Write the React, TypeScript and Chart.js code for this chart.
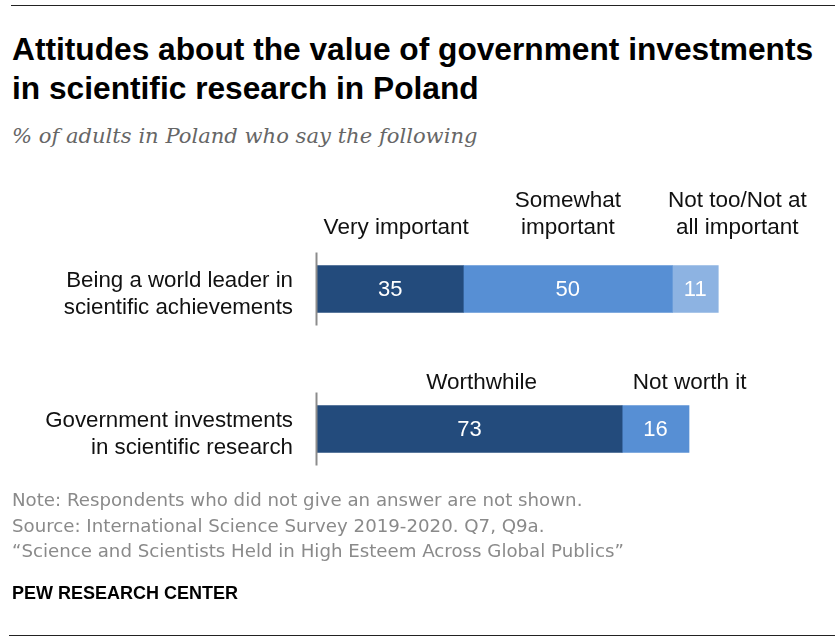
import { useEffect, useRef } from 'react'
import { Chart, registerables } from 'chart.js'
import type { Plugin } from 'chart.js'

Chart.register(...registerables)

const categories = [
  ['Being a world leader in', 'scientific achievements'],
  ['Government investments', 'in scientific research'],
]

// each row holds its own answer set, stacked left to right
const firstSegment = [35, 73]
const secondSegment = [50, 16]
const thirdSegment = [11, null]

const segmentNames = [
  [['Very important'], ['Somewhat', 'important'], ['Not too/Not at', 'all important']],
  [['Worthwhile'], ['Not worth it']],
]

const COLORS = {
  dark: '#234b7c',
  mid: '#578fd4',
  light: '#8db3e2',
  axis: '#8c8c8c',
  text: '#111111',
  note: '#8a8a8a',
}

const SANS = '"Liberation Sans", Arial, sans-serif'

// nudges for the answer names above the bars (px)
const nameShift = [
  [6, 0, 42],
  [12, 34],
]
const nameGap = [32, 17]

const annotatePlugin: Plugin<'bar'> = {
  id: 'annotate',
  afterDatasetsDraw(chart) {
    const ctx = chart.ctx
    const xScale = chart.scales.x
    ctx.save()

    categories.forEach((_, row) => {
      let top = 0
      let bottom = 0
      let seen = 0
      chart.data.datasets.forEach((ds, di) => {
        const value = ds.data[row] as number | null
        if (value == null) return
        const bar = chart.getDatasetMeta(di).data[row] as any
        const { x, y, base, height } = bar.getProps(['x', 'y', 'base', 'height'], true)
        top = y - height / 2
        bottom = y + height / 2
        const cx = (x + base) / 2

        // value inside the bar
        ctx.fillStyle = '#ffffff'
        ctx.font = `22px ${SANS}`
        ctx.textAlign = 'center'
        ctx.textBaseline = 'middle'
        ctx.fillText(String(value), cx, y + 1)

        // answer name above the bar
        const lines = segmentNames[row][seen]
        const nx = cx + (nameShift[row][seen] ?? 0)
        ctx.fillStyle = COLORS.text
        ctx.font = `22.5px ${SANS}`
        ctx.textBaseline = 'alphabetic'
        lines.forEach((line, li) => {
          const baseline = top - nameGap[row] - (lines.length - 1 - li) * 27
          ctx.fillText(line, nx, baseline)
        })
        seen += 1
      })

      // short axis stub for each row
      const x0 = Math.round(xScale.getPixelForValue(0)) - 0.5
      ctx.strokeStyle = COLORS.axis
      ctx.lineWidth = 2
      ctx.beginPath()
      ctx.moveTo(x0, top - 13)
      ctx.lineTo(x0, bottom + 13)
      ctx.stroke()
    })

    ctx.restore()
  },
}

function PollChart() {
  const canvasRef = useRef<HTMLCanvasElement>(null)
  const chartRef = useRef<Chart | null>(null)

  useEffect(() => {
    if (!canvasRef.current) return
    const ctx = canvasRef.current.getContext('2d')
    if (!ctx) return

    chartRef.current = new Chart(ctx, {
      type: 'bar',
      data: {
        labels: categories,
        datasets: [
          { label: 'first', data: firstSegment, backgroundColor: COLORS.dark },
          { label: 'second', data: secondSegment, backgroundColor: COLORS.mid },
          { label: 'third', data: thirdSegment, backgroundColor: COLORS.light },
        ],
      },
      options: {
        indexAxis: 'y',
        responsive: false,
        animation: false,
        layout: {
          padding: { top: 219, bottom: 145, left: 0, right: 105 },
        },
        datasets: {
          bar: { barThickness: 47, borderWidth: 0 },
        },
        plugins: {
          legend: { display: false },
          tooltip: { enabled: false },
        },
        scales: {
          x: {
            stacked: true,
            min: 0,
            max: 100,
            display: false,
          },
          y: {
            stacked: true,
            grid: { display: false, drawTicks: false },
            border: { display: false },
            ticks: {
              padding: 24,
              labelOffset: 5,
              color: COLORS.text,
              font: { family: SANS, size: 22.3, lineHeight: 1.2 },
            },
            afterFit(scale) {
              scale.width = 317
            },
          },
        },
      },
      plugins: [annotatePlugin],
    })

    return () => {
      if (chartRef.current) {
        chartRef.current.destroy()
        chartRef.current = null
      }
    }
  }, [])

  return <canvas ref={canvasRef} width={840} height={644} style={{ position: 'absolute', left: 0, top: 0 }} />
}

export default function App() {
  return (
    <div
      style={{
        position: 'fixed',
        left: 0,
        top: 0,
        width: 840,
        height: 644,
        background: '#ffffff',
        fontFamily: SANS,
        overflow: 'hidden',
      }}
    >
      <div style={{ position: 'absolute', left: 11, top: 5, width: 824, height: 1.3, background: '#222' }} />
      <div
        style={{
          position: 'absolute',
          left: 12,
          top: 30,
          fontSize: 31.7,
          lineHeight: '39px',
          fontWeight: 700,
          color: '#000',
          letterSpacing: 0,
        }}
      >
        Attitudes about the value of government investments
        <br />
        in scientific research in Poland
      </div>
      <div
        style={{
          position: 'absolute',
          left: 12,
          top: 123,
          fontSize: 21.1,
          fontStyle: 'italic',
          fontFamily: '"DejaVu Serif", serif',
          color: '#666',
        }}
      >
        % of adults in Poland who say the following
      </div>
      <PollChart />
      <div
        style={{
          position: 'absolute',
          left: 12,
          top: 487,
          fontSize: 18.2,
          lineHeight: '25.5px',
          color: COLORS.note,
          fontFamily: '"DejaVu Sans", sans-serif',
        }}
      >
        Note: Respondents who did not give an answer are not shown.
        <br />
        Source: International Science Survey 2019-2020. Q7, Q9a.
        <br />
        “Science and Scientists Held in High Esteem Across Global Publics”
      </div>
      <div style={{ position: 'absolute', left: 12, top: 583, fontSize: 18, fontWeight: 700, color: '#000' }}>
        PEW RESEARCH CENTER
      </div>
      <div style={{ position: 'absolute', left: 9, top: 635, width: 826, height: 1.3, background: '#222' }} />
    </div>
  )
}
